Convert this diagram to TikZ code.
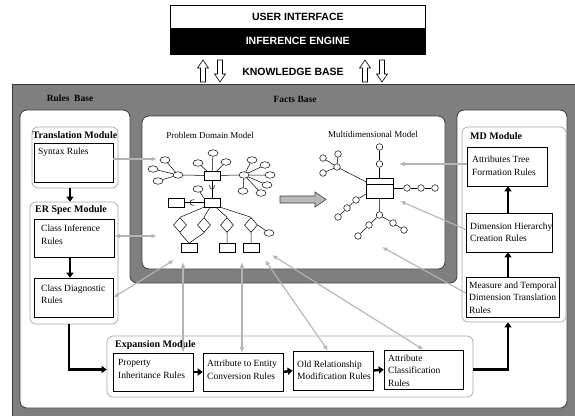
\documentclass[tikz,border=0pt]{standalone}
\usepackage{fontspec}
\setmainfont{Liberation Serif}
\newfontfamily\topfont{Liberation Sans}
\usetikzlibrary{arrows.meta,calc,shapes.geometric}
\definecolor{bg}{HTML}{7F7F7F}
\definecolor{dk}{HTML}{3A3A3A}
\definecolor{lg}{HTML}{B4B4B4}
\definecolor{mg}{HTML}{A8A8A8}
\begin{document}
\begin{tikzpicture}[x=1pt,y=-1pt,
  rulebox/.style={draw=black,line width=0.6pt,fill=white,rectangle,inner sep=0pt},
  modbox/.style={draw=mg,line width=0.7pt,rounded corners=6pt,rectangle,inner sep=0pt},
  txt/.style={anchor=west,align=left,inner sep=0pt,font=\fontsize{9.5}{12.5}\selectfont},
  ttl/.style={anchor=west,inner sep=0pt,font=\fontsize{10}{12}\selectfont\bfseries},
  bt/.style={inner sep=0pt,font=\fontsize{9.5}{12}\selectfont\bfseries},
  lab/.style={inner sep=0pt,font=\fontsize{9}{11}\selectfont},
  topf/.style={font=\topfont\fontsize{10.5}{12}\selectfont\bfseries},
  thk/.style={line width=2.4pt,-{Triangle[length=5pt,width=7pt]}},
  conn/.style={draw=lg,line width=1.1pt,-{Latex[length=5.5pt,width=4.5pt]}},
  bconn/.style={draw=lg,line width=1.1pt,{Latex[length=5.5pt,width=4.5pt]}-{Latex[length=5.5pt,width=4.5pt]}},
  ln/.style={draw=black,line width=0.5pt},
  ell/.style={ellipse,draw,line width=0.5pt,minimum width=10pt,minimum height=6.5pt,inner sep=0pt,fill=white},
  ent/.style={rectangle,draw,line width=0.5pt,minimum width=16pt,minimum height=9pt,inner sep=0pt,fill=white},
  dia/.style={diamond,draw,line width=0.5pt,minimum width=13pt,minimum height=15pt,inner sep=0pt,fill=white},
  cir/.style={circle,draw,line width=0.5pt,minimum size=6.6pt,inner sep=0pt,fill=white}
]
\useasboundingbox (0,0) rectangle (575,416);
\fill[white] (0,0) rectangle (575,416);

% top boxes
\node[draw=black,line width=0.6pt,fill=white,minimum width=255pt,minimum height=23pt,inner sep=0pt,anchor=north west,topf] (ui) at (170,5) {USER INTERFACE};
\node[draw=black,fill=black,minimum width=255pt,minimum height=26pt,inner sep=0pt,anchor=north west,topf,text=white] (ie) at (170,28) {INFERENCE ENGINE};
\foreach \cx in {203,365} {
  \draw[line width=0.6pt,fill=white] (\cx,60) -- (\cx+5.5,68) -- (\cx+2.5,68) -- (\cx+2.5,82) -- (\cx-2.5,82) -- (\cx-2.5,68) -- (\cx-5.5,68) -- cycle;
}
\foreach \cx in {220,382} {
  \draw[line width=0.6pt,fill=white] (\cx,82) -- (\cx+5.5,74) -- (\cx+2.5,74) -- (\cx+2.5,60) -- (\cx-2.5,60) -- (\cx-2.5,74) -- (\cx-5.5,74) -- cycle;
}
\node[topf,inner sep=0pt] (kb) at (293,72) {KNOWLEDGE BASE};

% background
\fill[bg] (12,84) rectangle (575,416);
\draw[dk,line width=1.2pt] (12.6,416) -- (12.6,84.6) -- (575,84.6);
\filldraw[fill=white,draw=dk,line width=0.8pt,rounded corners=7pt] (20,110) -- (130,110) -- (130,283) -- (457,283) -- (457,110) -- (567,110) -- (567,408) -- (20,408) -- cycle;
\filldraw[fill=white,draw=dk,line width=0.8pt,rounded corners=7pt] (142,116) rectangle (445,269);

\node[bt] (rbl) at (70,98) {Rules\ \ Base};
\node[bt] (fbl) at (295,99) {Facts Base};

% modules
\node[modbox,minimum width=86pt,minimum height=61pt] (trans) at (75,157.5) {};
\node[modbox,minimum width=88pt,minimum height=122pt] (erspec) at (74,263) {};
\node[modbox,minimum width=366pt,minimum height=61pt] (exp) at (290,366.5) {};
\node[modbox,minimum width=104pt,minimum height=195pt] (md) at (514,224.5) {};

\node[ttl,anchor=center] (transt) at (75,135) {Translation Module};
\node[ttl] (erst) at (35,210) {ER Spec Module};
\node[ttl] (expt) at (115,345) {Expansion Module};
\node[ttl] (mdt) at (470,136) {MD Module};

% rule boxes
\node[rulebox,minimum width=79pt,minimum height=39pt] (syn) at (73.5,162.5) {};
\node[rulebox,minimum width=80pt,minimum height=38pt] (ci) at (74,238) {};
\node[rulebox,minimum width=79pt,minimum height=39pt] (cd) at (73.5,297.5) {};
\node[rulebox,minimum width=80pt,minimum height=38pt] (pi) at (153,372) {};
\node[rulebox,minimum width=80pt,minimum height=38pt] (ae) at (243,372) {};
\node[rulebox,minimum width=80pt,minimum height=39pt] (or) at (333,370.5) {};
\node[rulebox,minimum width=79pt,minimum height=39pt] (ac) at (423.5,369.5) {};
\node[rulebox,minimum width=80pt,minimum height=39pt] (atf) at (507,166.5) {};
\node[rulebox,minimum width=86pt,minimum height=39pt] (dhc) at (509,232.5) {};
\node[rulebox,minimum width=93pt,minimum height=40pt] (mtd) at (512.5,297) {};

\node[txt] (synt) at (38,152) {Syntax Rules};
\node[txt] (cit) at (41,234.5) {Class Inference\\Rules};
\node[txt] (cdt) at (41,294) {Class Diagnostic\\Rules};
\node[txt] (pit) at (118,369) {Property\\Inheritance Rules};
\node[txt] (aet) at (207,369.5) {Attribute to Entity\\Conversion Rules};
\node[txt] (ort) at (297,370) {Old Relationship\\Modification Rules};
\node[txt] (act) at (388,370.5) {Attribute\\Classification\\Rules};
\node[txt] (atft) at (472,165.5) {Attributes Tree\\Formation Rules};
\node[txt] (dhct) at (470,232) {Dimension Hierarchy\\Creation Rules};
\node[txt] (mtdt) at (469,297.5) {Measure and Temporal\\Dimension Translation\\Rules};

% thick arrows
\coordinate (rbx) at (70,0);
\coordinate (rby) at (69,0);
\coordinate (mdx) at (508,0);
\draw[thk] (trans.south -| rbx) -- (erspec.north -| rbx);
\draw[thk] (ci.south -| rbx) -- (cd.north -| rbx);
\draw[thk] (erspec.south -| rby) |- ([yshift=-3pt]exp.west);
\draw[thk] (pi.east) -- (ae.west);
\draw[thk] (ae.east) -- (or.west);
\draw[thk] (or.east) -- (ac.west);
\draw[thk] ([yshift=-3pt]exp.east) -| (md.south -| mdx);
\draw[thk] (mtd.north -| mdx) -- (dhc.south -| mdx);
\draw[thk] (dhc.north -| mdx) -- (atf.south -| mdx);

% problem domain model
\node[lab] (pdm) at (210,135) {Problem Domain Model};
\node[lab] (mdm) at (373,134) {Multidimensional Model};

\node[ent] (pe1) at (212,175.5) {};
\node[ell] (lh) at (178,175) {};
\node[ell] (rh) at (244,175) {};
\draw[ln] (lh) -- (pe1) -- (rh);
\node[ell] (l1) at (165,160) {};
\node[ell] (l2) at (153,169) {};
\node[ell] (l3) at (158,181) {};
\draw[ln] (l1) -- (lh) (l2) -- (lh) (l3) -- (lh);
\node[ell] (t1) at (213,153) {};
\node[ell] (t2) at (198,163) {};
\node[ell] (t3) at (226,162) {};
\draw[ln] (t1) -- (pe1) (t2) -- (pe1) (t3) -- (pe1);
\node[ell] (r1) at (252,160) {};
\node[ell] (r2) at (265,165) {};
\node[ell] (r3) at (270,175) {};
\node[ell] (r4) at (267,185) {};
\node[ell] (r5) at (261,193) {};
\node[ell] (r6) at (243,191) {};
\draw[ln] (r1) -- (rh) (r2) -- (rh) (r3) -- (rh) (r4) -- (rh) (r5) -- (rh) (r6) -- (rh);
\node[ent] (pe2) at (212,202.5) {};
\node[ent] (pe3) at (176,202.5) {};
\node[ell] (e4) at (198,189) {};
\draw[ln] (pe1) -- (pe2);
\draw[ln] (pe3) -- (pe2);
\draw[ln] (e4) -- (pe2.north west);
\draw[ln] (209.5,185) .. controls (209.5,190.5) and (214.5,190.5) .. (214.5,185);
\draw[ln] (194,199.5) .. controls (188.5,199.5) and (188.5,205.5) .. (194,205.5);
\node[dia] (d1) at (180,225) {};
\node[dia] (d2) at (204,225) {};
\node[dia] (d3) at (227,225) {};
\node[dia] (d4) at (251,225) {};
\draw[ln] (pe2.south west) -- (d1.north);
\draw[ln] ([xshift=-2pt]pe2.south) -- (d2.north);
\draw[ln] ([xshift=4pt]pe2.south) -- (d3.north);
\draw[ln] (pe2.south east) -- (d4.north);
\node[ent] (b1) at (189,248) {};
\node[ent] (b2) at (227,248) {};
\node[ent] (b3) at (251,248) {};
\draw[ln] (d1.south) -- (b1.north) (d2.south) -- (b1.north) (d3) -- (b2) (d4) -- (b3);
\node[ell] (e5) at (269,233) {};
\draw[ln] (d4.east) -- (e5);

% big arrow
\filldraw[fill=gray!55,draw=dk,line width=0.6pt] (280,196) -- (315,196) -- (315,192) -- (326,199.5) -- (315,207) -- (315,203) -- (280,203) -- cycle;

% multidimensional model
\node[draw,line width=0.6pt,fill=white,minimum width=27pt,minimum height=20pt,inner sep=0pt] (fct) at (379.5,188) {};
\draw[ln] ($(fct.north west)+(0,7)$) -- ($(fct.north east)+(0,7)$);
\node[cir] (m1) at (379.5,164) {};
\node[cir] (m2) at (379.5,147) {};
\draw[ln] (fct) -- (m1) -- (m2);
\node[cir] (m3) at (407,188) {};
\node[cir] (m4) at (421,188) {};
\node[cir] (m5) at (435,188) {};
\draw[ln] (fct) -- (m3) -- (m4) -- (m5);
\node[cir] (m6) at (337,167) {};
\node[cir] (m7) at (338,154) {};
\node[cir] (m8) at (323,158) {};
\node[cir] (m9) at (323,173) {};
\draw[ln] ($(fct.north west)+(0,4)$) -- (m6);
\draw[ln] (m6) -- (m7) (m6) -- (m8) (m6) -- (m9);
\node[cir] (m10) at (356,200) {};
\node[cir] (m11) at (347,208) {};
\node[cir] (m12) at (338,217) {};
\draw[ln] ($(fct.south west)+(0,-4)$) -- (m10) -- (m11) -- (m12);
\node[cir] (m13) at (379.5,215) {};
\node[cir] (m14) at (369,225) {};
\node[cir] (m15) at (358,236) {};
\node[cir] (m16) at (393,223) {};
\node[cir] (m17) at (404,230) {};
\draw[ln] (fct) -- (m13) -- (m14) -- (m15);
\draw[ln] (m13) -- (m16) -- (m17);

% gray connectors
\coordinate (k1) at (157,159);
\coordinate (k2) at (157,236);
\coordinate (k3) at (174,260);
\coordinate (k4) at (183,262);
\coordinate (k5) at (242,262);
\coordinate (k6) at (265,260);
\coordinate (k7) at (272,255);
\coordinate (k8) at (399,164);
\coordinate (k9) at (400,201);
\coordinate (k10) at (382,247);
\draw[conn] (syn.east |- k1) -- (k1);
\draw[bconn] (ci.east |- k2) -- (k2);
\draw[bconn] (cd.east) -- (k3);
\draw[bconn] (pi.north -| k4) -- (k4);
\draw[bconn] (ae.north -| k5) -- (k5);
\draw[bconn] ([xshift=-5pt]or.north) -- (k6);
\draw[bconn] (ac.north) -- (k7);
\draw[conn] (atf.west |- k8) -- (k8);
\draw[conn] ([yshift=3pt]dhc.west) -- (k9);
\draw[conn] ([yshift=4pt]mtd.west) -- (k10);
\end{tikzpicture}
\end{document}
